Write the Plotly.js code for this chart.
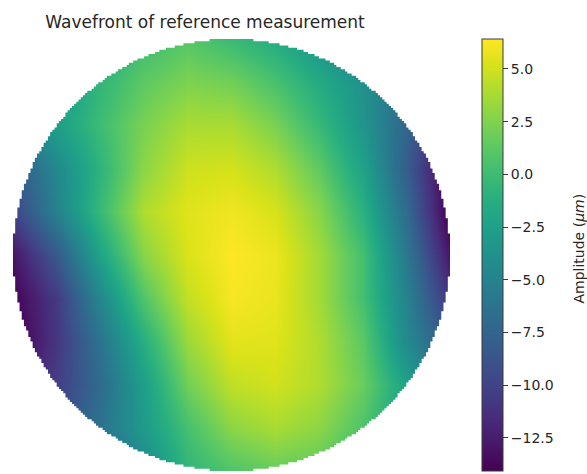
<!DOCTYPE html>
<html>
<head>
<meta charset="utf-8">
<script src="https://cdn.plot.ly/plotly-3.0.1.min.js"></script>
<style>
html, body { margin: 0; padding: 0; background: #ffffff; }
#chart { width: 587px; height: 474px; }
</style>
</head>
<body>
<div id="chart"></div>
<script>
// Normalised pupil coordinates of the sampled wavefront grid (x left->right, y top->bottom)
const pupilX = [-1.0, -0.8, -0.6, -0.4, -0.2, 0.0, 0.2, 0.4, 0.6, 0.8, 1.0];
const pupilY = [-1.0, -0.8, -0.6, -0.4, -0.2, 0.0, 0.2, 0.4, 0.6, 0.8, 1.0];

// Wavefront amplitude (µm), rows follow pupilY, columns follow pupilX
const row0  = [-8.0,  -4.5,  -2.0,  0.0,  1.0, -0.2, -1.5, -3.6, -6.0, -8.5, -12.0];
const row1  = [-6.5,  -3.2,  -0.6,  1.3,  2.4,  2.0,  0.5, -1.6, -3.8, -6.8, -10.5];
const row2  = [-5.6,  -2.6,   0.0,  2.3,  3.8,  3.8,  2.3, -0.3, -3.5, -7.4, -12.0];
const row3  = [-8.6,  -4.5,  -0.8,  2.9,  4.9,  5.1,  4.0,  1.4, -2.3, -8.0, -14.5];
const row4  = [-10.0, -5.0,  -0.3,  4.0,  5.5,  6.0,  5.2,  2.8, -1.0, -6.9, -14.5];
const row5  = [-13.0, -8.3,  -2.2,  2.8,  5.3,  6.4,  5.9,  3.6,  0.3, -5.8, -13.0];
const row6  = [-14.0, -10.6, -4.6,  0.9,  4.6,  6.2,  5.8,  3.6,  0.3, -5.0, -11.0];
const row7  = [-14.5, -10.8, -6.3, -1.2,  3.4,  5.6,  5.5,  4.0,  1.2, -4.4,  -8.8];
const row8  = [-13.0, -10.3, -7.0, -2.6,  2.0,  4.5,  5.0,  4.0,  1.7, -2.3,  -6.5];
const row9  = [-12.5,  -9.5, -6.3, -3.0,  0.4,  2.9,  3.8,  2.9,  0.7, -2.5,  -6.0];
const row10 = [-14.0, -12.0, -8.5, -4.5, -0.6,  0.8,  1.6,  1.3, -1.0, -4.5,  -8.5];
const amplitude = [row0, row1, row2, row3, row4, row5, row6, row7, row8, row9, row10];

const colorbarTicks = [5.0, 2.5, 0.0, -2.5, -5.0, -7.5, -10.0, -12.5];
const zMin = -14.07;
const zMax = 6.42;

const chartTitle = 'Wavefront of reference measurement';
const colorbarLabel = 'Amplitude (<i>μm</i>)';

// Circular pupil aperture (pixelated like the sampled detector grid): white mask outside it
const nPix = 200;
const cell = 2 / nPix;
const rightPts = [];
for (let j = 0; j < nPix; j++) {
  const y0 = -1 + j * cell, y1 = y0 + cell, vc = y0 + cell / 2;
  const h = Math.sqrt(Math.max(0, 1 - vc * vc));
  const k = Math.floor(h / cell - 0.5);
  const xr = k >= 0 ? (k + 1) * cell : 0;
  rightPts.push([xr, y0], [xr, y1]);
}
const leftPts = rightPts.slice().reverse().map(p => [-p[0], p[1]]);
const ring = rightPts.concat(leftPts);
let maskPath = 'M-1.02,-1.02 L1.02,-1.02 L1.02,1.02 L-1.02,1.02 Z ';
ring.forEach((p, i) => { maskPath += (i === 0 ? 'M' : 'L') + p[0].toFixed(4) + ',' + p[1].toFixed(4) + ' '; });
maskPath += 'Z';

const W = 587, H = 474;
const plotL = 13, plotR = 450, plotT = 39, plotB = 471;
const plotW = plotR - plotL, plotH = plotB - plotT;
const textColor = '#262626';
const font = 'DejaVu Sans, sans-serif';

const trace = {
  type: 'heatmap',
  x: pupilX,
  y: pupilY,
  z: amplitude,
  zmin: zMin,
  zmax: zMax,
  zsmooth: 'best',
  colorscale: 'Viridis',
  hoverinfo: 'skip',
  colorbar: {
    x: (482 - plotL) / plotW,
    xref: 'paper',
    xanchor: 'left',
    xpad: 0,
    ypad: 0,
    y: 0.5,
    yanchor: 'middle',
    len: plotH,
    lenmode: 'pixels',
    thickness: 21,
    thicknessmode: 'pixels',
    outlinewidth: 1,
    outlinecolor: '#3a3a3a',
    tickmode: 'array',
    tickvals: colorbarTicks,
    tickformat: '.1f',
    ticks: 'outside',
    ticklen: 5,
    tickwidth: 1,
    tickcolor: '#3a3a3a',
    tickfont: { family: font, size: 14, color: textColor }
  }
};

const layout = {
  width: W,
  height: H,
  margin: { l: plotL, r: W - plotR, t: plotT, b: H - plotB, pad: 0 },
  paper_bgcolor: '#ffffff',
  plot_bgcolor: '#ffffff',
  showlegend: false,
  title: {
    text: chartTitle,
    x: 205 / W,
    xref: 'container',
    xanchor: 'center',
    y: 1 - 22 / H,
    yref: 'container',
    yanchor: 'middle',
    font: { family: font, size: 17, color: textColor }
  },
  xaxis: { range: [-1, 1], visible: false, fixedrange: true },
  yaxis: { range: [1, -1], visible: false, fixedrange: true },
  shapes: [{
    type: 'path',
    xref: 'x',
    yref: 'y',
    path: maskPath,
    fillcolor: '#ffffff',
    fillrule: 'evenodd',
    line: { width: 0 },
    layer: 'above'
  }],
  annotations: [{
    text: colorbarLabel,
    xref: 'paper',
    yref: 'paper',
    x: (579 - plotL) / plotW,
    y: 0.515,
    xanchor: 'center',
    yanchor: 'middle',
    textangle: -90,
    showarrow: false,
    font: { family: font, size: 14, color: textColor }
  }]
};

Plotly.newPlot('chart', [trace], layout, { staticPlot: true, displayModeBar: false });
</script>
</body>
</html>
